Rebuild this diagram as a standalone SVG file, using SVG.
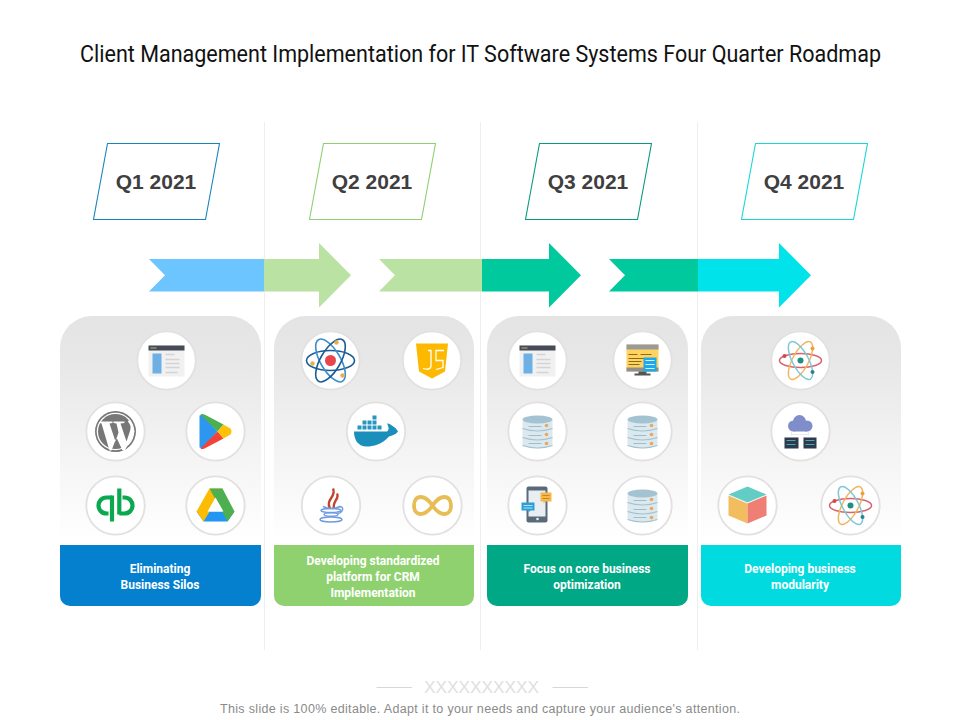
<svg xmlns="http://www.w3.org/2000/svg" width="960" height="720" viewBox="0 0 960 720">
<style>
.title{font-family:"Roboto","Liberation Sans",sans-serif;font-size:23px;fill:#111;text-anchor:middle}
.q{font-family:"Liberation Sans",Arial,sans-serif;font-size:21px;font-weight:700;fill:#3f3f3f;text-anchor:middle}
.cap{font-family:"Roboto","Liberation Sans",sans-serif;font-size:12px;font-weight:700;fill:#fff;text-anchor:middle}
.foot{font-family:"Liberation Sans",Arial,sans-serif;font-size:12.500px;fill:#8a8a8a;text-anchor:middle}
.xx{font-family:"Liberation Sans",Arial,sans-serif;font-size:16px;fill:#e0e0e0;text-anchor:middle}
.div{stroke:#eeeeee;stroke-width:1}
.para{fill:#fff;stroke-width:1.100}
.ring{fill:#fff;stroke:#e2e0e0;stroke-width:1.800}
</style>
<defs>
<linearGradient id="pg" x1="0" y1="0" x2="0" y2="1">
<stop offset="0" stop-color="#e5e4e5"/><stop offset="0.15" stop-color="#e8e7e8"/><stop offset="0.45" stop-color="#f3f3f3"/><stop offset="0.78" stop-color="#ffffff"/>
</linearGradient>
<g id="page">
<rect x="-18" y="-15" width="36" height="31" fill="#f1f1f2"/>
<rect x="-18" y="-15" width="36" height="5" fill="#474b57"/>
<path d="M-16-12.500H-10" stroke="#b9b96a" stroke-width="1"/>
<rect x="-14" y="-7" width="9" height="20" fill="#6eb0e4"/>
<g stroke="#d4d4d6" stroke-width="1.300"><path d="M-1-6H8M-1-1H13M-1 3H13M-1 7H13M-1 12H11"/></g>
</g>
<g id="db">
<path d="M-15-11V14Q0 20 15 14V-11Z" fill="#dbe8ee"/>
<ellipse cx="0" cy="-12" rx="15" ry="4" fill="#a3c3d2"/>
<path d="M-15-3Q0 2 15-3M-15 6Q0 11 15 6M-15 14Q0 19 15 14" fill="none" stroke="#a3c3d2" stroke-width="1.200"/>
<path d="M-9-5H4M-9 4H4M-9 12H4" stroke="#8fb0c0" stroke-width="0.800"/>
<g fill="#eda75c"><circle cx="9" cy="-6" r="1.800"/><circle cx="9" cy="3" r="1.800"/><circle cx="9" cy="12" r="1.800"/></g>
</g>
<g id="atom" fill="none" stroke-width="1.500">
<ellipse rx="21" ry="7" stroke="#d9636a"/>
<ellipse rx="21" ry="8" stroke="#f3b562" transform="rotate(-62)"/>
<ellipse rx="21" ry="8" stroke="#7fc8d3" transform="rotate(62)"/>
<circle r="3" fill="#1f9080" stroke="none"/>
<circle cx="-16" cy="-4.500" r="2" fill="#d9424c" stroke="none"/>
<circle cx="12" cy="-12" r="2" fill="#e8a23c" stroke="none"/>
<circle cx="12" cy="11.500" r="2" fill="#2f7f95" stroke="none"/>
</g>
</defs>
<rect width="960" height="720" fill="#fff"/>
<text class="title" x="480.500" y="62" textLength="801" lengthAdjust="spacingAndGlyphs">Client Management Implementation for IT Software Systems Four Quarter Roadmap</text>
<g id="dividers"><path class="div" d="M264.500 122V650M480.500 122V650M697.500 122V650"/></g>

<g id="q1"><polygon class="para" stroke="#1a86b8" points="107.500,143.500 219.500,143.500 205.500,219.500 93.500,219.500"/><text class="q" x="156" y="189">Q1 2021</text></g>
<g id="q2"><polygon class="para" stroke="#8fcf70" points="323.500,143.500 435.500,143.500 421.500,219.500 309.500,219.500"/><text class="q" x="372" y="189">Q2 2021</text></g>
<g id="q3"><polygon class="para" stroke="#0a9a80" points="539.500,143.500 651.500,143.500 637.500,219.500 525.500,219.500"/><text class="q" x="588" y="189">Q3 2021</text></g>
<g id="q4"><polygon class="para" stroke="#1ad6d6" points="755.500,143.500 867.500,143.500 853.500,219.500 741.500,219.500"/><text class="q" x="804" y="189">Q4 2021</text></g>

<g id="connectors">
<polygon fill="#6cc5ff" points="149,259 264,259 264,291.500 149,291.500 165,275.200"/>
<polygon fill="#b9e2a3" points="264,259 319,259 319,243 351,275.200 319,307.500 319,291.500 264,291.500"/>
<polygon fill="#b9e2a3" points="379,259 482,259 482,291.500 379,291.500 395,275.200"/>
<polygon fill="#00c99d" points="482,259 549,259 549,243 581,275.200 549,307.500 549,291.500 482,291.500"/>
<polygon fill="#00c99d" points="609,259 698,259 698,291.500 609,291.500 625,275.200"/>
<polygon fill="#00e3ea" points="698,259 779,259 779,243 811,275.200 779,307.500 779,291.500 698,291.500"/>
</g>

<g id="panel1">
<rect x="60" y="316" width="201" height="290" rx="32" fill="url(#pg)"/>
<path d="M60 545H261V596a10 10 0 0 1-10 10H70a10 10 0 0 1-10-10Z" fill="#0480cf"/>
<text class="cap" x="160" y="573">Eliminating</text><text class="cap" x="160" y="589">Business Silos</text>
<g id="n1a" transform="translate(166.500,360.500)"><circle class="ring" r="29.200"/><use href="#page"/></g>
<g id="n1b" transform="translate(115.500,431.500)"><circle class="ring" r="29.200"/><circle r="20.500" fill="#777"/><circle r="18.800" fill="#fff"/><circle r="17.500" fill="#777"/><path d="M-17-9-14-10H-3L-3-8.500-6-8 0 10 3 1 1-8-2-8.500V-10H9L9-8.500 5-8 11 10 14 1C16-4 15-7 13-9 12-10 13-12 15-11L19 0 16 8 9 19H7L1 6-4 19H-6L-14-8Z" fill="#fff"/></g>
<g id="n1c" transform="translate(215.500,431.500)"><circle class="ring" r="29.200"/><path d="M-16-16-16 16-13 17 2 0-13-17Z" fill="#2d97f0"/><path d="M-15-17Q-14-18-11-17L8-7 2 0Z" fill="#4caf50"/><path d="M-15 17Q-14 18-11 17L8 7 2 0Z" fill="#f44336"/><path d="M8-7 15-3Q17 0 15 3L8 7 2 0Z" fill="#ffc107"/></g>
<g id="n1d" transform="translate(115.500,505.500)"><circle class="ring" r="29.200"/><g fill="none" stroke="#0aa84f" stroke-width="4.200"><path d="M-3.500-8H-9C-14-8-17-4-17 0-17 4-14 8-9 8H-7"/><path d="M-3.500-10V16"/><path d="M3.800 8H9C14 8 17 4 17 0 17-4 14-8 9-8H7"/><path d="M3.800-17V9"/></g></g>
<g id="n1e" transform="translate(215.500,505.500)"><circle class="ring" r="29.200"/><path d="M-19 6-12 16H12L19 6Z" fill="#2196f3"/><path d="M-6-17H7L-7 8-12 16-19 6Z" fill="#fbbc04"/><path d="M7-17 19 6 12 16-1-8-6-17Z" fill="#4caf50"/><path d="M0-8-8 6H8Z" fill="#fff"/></g>
</g>

<g id="panel2">
<rect x="274" y="316" width="200" height="290" rx="32" fill="url(#pg)"/>
<path d="M274 545H474V596a10 10 0 0 1-10 10H284a10 10 0 0 1-10-10Z" fill="#8fd16f"/>
<text class="cap" x="373" y="565">Developing standardized</text><text class="cap" x="373" y="581">platform for CRM</text><text class="cap" x="373" y="597">Implementation</text>
<g id="n2a" transform="translate(330.500,360.500)"><circle class="ring" r="29.200"/><g fill="none" stroke-width="1.600"><ellipse rx="24" ry="10" stroke="#1d5d96"/><ellipse rx="24" ry="10" stroke="#3b8fd0" transform="rotate(60)"/><ellipse rx="24" ry="10" stroke="#1d5d96" transform="rotate(-60)"/></g><circle r="5.500" fill="#e8454d"/><circle cx="6" cy="-18" r="2.200" fill="#e8b04a"/><circle cx="-18" cy="3" r="2.200" fill="#e8b04a"/><circle cx="12" cy="15" r="2.200" fill="#e8b04a"/></g>
<g id="n2b" transform="translate(432,360.500)"><circle class="ring" r="29.200"/><path d="M-16-17H16L13 11 0 18-13 11Z" fill="#fcb900"/><path d="M-4-10H-1V6Q-2 10-9 8M12-10H4V0H11V7L4 9" fill="none" stroke="#fff" stroke-width="1.300"/></g>
<g id="n2c" transform="translate(376,431.500)"><circle class="ring" r="29.200"/><path d="M-22 0H11C14-2 12-6 11-8 14-8 16-6 20-3 21-1 22-1 22 0 20 3 16 4 13 5 6 13-3 15-9 15-19 15-22 7-22 0Z" fill="#1b8fbb"/><g fill="#2a96bf"><rect x="-18.500" y="-6" width="4" height="4"/><rect x="-13.500" y="-6" width="4" height="4"/><rect x="-8.500" y="-6" width="4" height="4"/><rect x="-3.500" y="-6" width="4" height="4"/><rect x="1.500" y="-6" width="4" height="4"/><rect x="-13.500" y="-11" width="4" height="4"/><rect x="-8.500" y="-11" width="4" height="4"/><rect x="-3.500" y="-11" width="4" height="4"/><rect x="-3.500" y="-16" width="4" height="4"/></g></g>
<g id="n2d" transform="translate(331,505.500)"><circle class="ring" r="29.200"/><path d="M2-17C6-9-6-6-1 3M6-12C9-7 1-4 3 3" fill="none" stroke="#c2452d" stroke-width="2.400"/><g fill="none" stroke="#6f9be0" stroke-width="1.400"><path d="M-8 1Q0 5 9 1"/><ellipse cy="5" rx="10" ry="2"/><ellipse cy="9" rx="7" ry="1.800"/><ellipse cy="14" rx="11" ry="2.500"/><path d="M8 1C14 1 12 7 7 8"/></g></g>
<g id="n2e" transform="translate(432.500,505.500)"><circle class="ring" r="29.200"/><path d="M0 0C-4-6-8-8.500-12-8.500-16-8.500-18.500-5-18.500 0-18.500 5-16 8.500-12 8.500-8 8.500-4 6 0 0 4-6 8-8.500 12-8.500 16-8.500 18.500-5 18.500 0 18.500 5 16 8.500 12 8.500 8 8.500 4 6 0 0Z" fill="none" stroke="#e9bd55" stroke-width="3.800"/></g>
</g>

<g id="panel3">
<rect x="487" y="316" width="201" height="290" rx="32" fill="url(#pg)"/>
<path d="M487 545H688V596a10 10 0 0 1-10 10H497a10 10 0 0 1-10-10Z" fill="#01a886"/>
<text class="cap" x="587" y="573">Focus on core business</text><text class="cap" x="587" y="589">optimization</text>
<g id="n3a" transform="translate(537.500,360.500)"><circle class="ring" r="29.200"/><use href="#page"/></g>
<g id="n3b" transform="translate(642.500,360.500)"><circle class="ring" r="29.200"/><rect x="-16" y="-16" width="32" height="27" fill="#ffd45e"/><rect x="-16" y="-16" width="32" height="5" fill="#9a9a9a"/><rect x="-16" y="7" width="32" height="4" fill="#8f8f8f"/><path d="M-4 11H4V13H8V15H-8V13H-4Z" fill="#555"/><path d="M-14-6H-5M-2-6H9M-14-2H6M-14 1H-1M-14 4H-3" stroke="#8a6a20" stroke-width="1"/><rect x="1" y="-3" width="13" height="14" fill="#1fa8ea"/><path d="M3 0H12M3 4H12M3 8H12" stroke="#d5f0ff" stroke-width="1"/></g>
<g id="n3c" transform="translate(537.500,431.500)"><circle class="ring" r="29.200"/><use href="#db"/></g>
<g id="n3d" transform="translate(642.500,431.500)"><circle class="ring" r="29.200"/><use href="#db"/></g>
<g id="n3e" transform="translate(537.500,505.500)"><circle class="ring" r="29.200"/><rect x="-11" y="-19" width="21" height="36" rx="2" fill="#5a6a7a"/><rect x="-9" y="-15" width="17" height="26" fill="#e8eef2"/><circle cx="0" cy="13.500" r="1.300" fill="#e8eef2"/><path d="M-16-3H-3V5H-7L-9 7V5H-16Z" fill="#2d9fd8"/><path d="M-14 0H-5M-14 2.500H-5" stroke="#d5f0ff" stroke-width="0.800"/><path d="M3-13H14V-4H8L6-2V-4H3Z" fill="#f7b84a"/><path d="M5-10H12M5-7H12" stroke="#b9792a" stroke-width="0.800"/></g>
<g id="n3f" transform="translate(642.500,505.500)"><circle class="ring" r="29.200"/><use href="#db"/></g>
</g>

<g id="panel4">
<rect x="701" y="316" width="200" height="290" rx="32" fill="url(#pg)"/>
<path d="M701 545H901V596a10 10 0 0 1-10 10H711a10 10 0 0 1-10-10Z" fill="#01dbe0"/>
<text class="cap" x="800" y="573">Developing business</text><text class="cap" x="800" y="589">modularity</text>
<g id="n4a" transform="translate(800.500,360.500)"><circle class="ring" r="29.200"/><use href="#atom"/></g>
<g id="n4b" transform="translate(800.500,431.500)"><circle class="ring" r="29.200"/><g fill="#7f8dcb"><circle cx="-7" cy="-5.500" r="5.500"/><circle cx="-1" cy="-10" r="6.500"/><circle cx="6.500" cy="-5.500" r="5.500"/><rect x="-7" y="-8" width="13.500" height="8"/></g><path d="M-9 0V4M8 0V4M-9 3H8" fill="none" stroke="#e3e3ee" stroke-width="0.800"/><g fill="#2b3b4d"><rect x="-16" y="6" width="14" height="11"/><rect x="3" y="6" width="13" height="11"/></g><path d="M-14 9H-5M5 9H14M-14 13H-5M5 13H14" stroke="#4fa3b5" stroke-width="1"/></g>
<g id="n4c" transform="translate(747.500,505.500)"><circle class="ring" r="29.200"/><path d="M0-19-19-11 0-3 19-11Z" fill="#63cdc5"/><path d="M-19-10 0-2V18L-19 10Z" fill="#f1bd5f"/><path d="M19-10 0-2V18L19 10Z" fill="#ef7f74"/></g>
<g id="n4d" transform="translate(850.500,505.500)"><circle class="ring" r="29.200"/><use href="#atom"/></g>
</g>

<g id="footer">
<path d="M376.500 687.500H412M552.500 687.500H588" stroke="#d8d8d8" stroke-width="1"/>
<text class="xx" x="481.500" y="692.500" textLength="115" lengthAdjust="spacingAndGlyphs">XXXXXXXXXX</text>
<text class="foot" x="480" y="713" textLength="520" lengthAdjust="spacing">This slide is 100% editable. Adapt it to your needs and capture your audience's attention.</text>
</g>
</svg>
